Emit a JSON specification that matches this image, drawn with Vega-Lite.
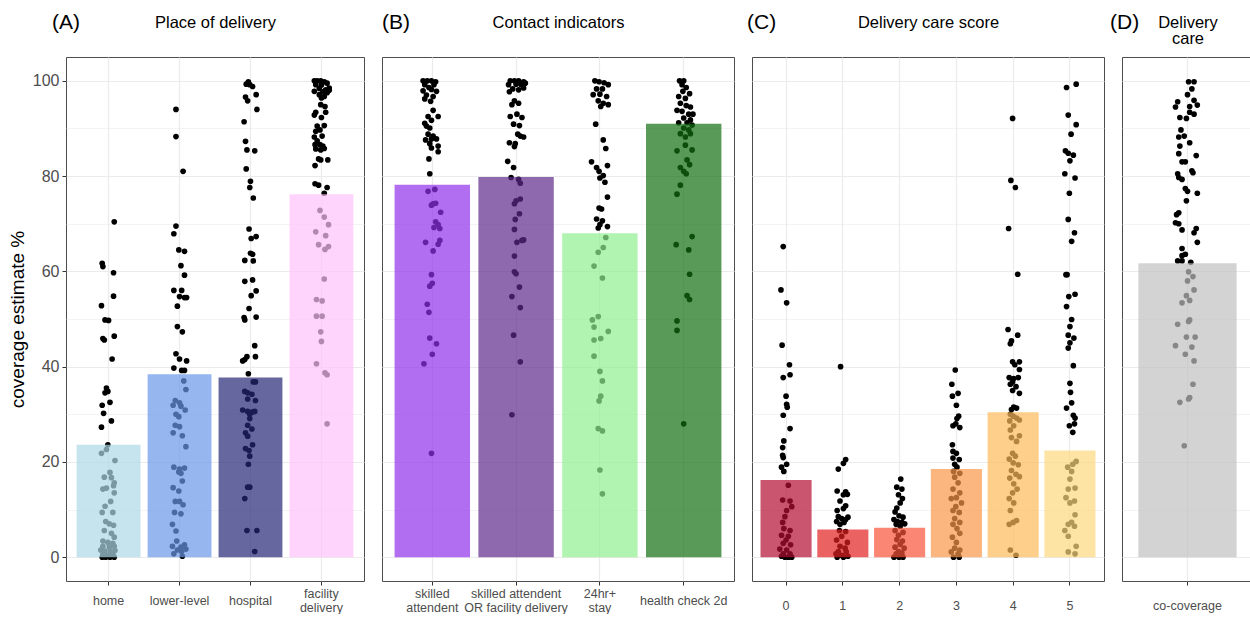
{
"$schema": "https://vega.github.io/schema/vega-lite/v6.json",
"background": "white",
"padding": {"left": 7, "top": 11, "right": 0, "bottom": 0},
"config": {
  "font": "Liberation Sans",
  "view": {"stroke": "#4d4d4d", "strokeWidth": 1},
  "axis": {"labelFont": "Liberation Sans", "titleFont": "Liberation Sans", "titleFontWeight": "normal", "labelColor": "#4d4d4d", "tickColor": "#333333", "gridColor": "#ebebeb", "domain": false},
  "title": {"font": "Liberation Sans", "fontWeight": "normal", "color": "black"}
},
"datasets": {
"bars": [
{"p":"A","c":"home","v":23.6},{"p":"A","c":"lower-level","v":38.4},{"p":"A","c":"hospital","v":37.7},{"p":"A","c":"facility delivery","v":76.2},
{"p":"B","c":"skilled attendent","v":78.2},{"p":"B","c":"skilled attendent OR facility delivery","v":79.8},{"p":"B","c":"24hr+ stay","v":68.0},{"p":"B","c":"health check 2d","v":91.0},
{"p":"C","c":"0","v":16.2},{"p":"C","c":"1","v":5.8},{"p":"C","c":"2","v":6.2},{"p":"C","c":"3","v":18.5},{"p":"C","c":"4","v":30.4},{"p":"C","c":"5","v":22.4},
{"p":"D","c":"co-coverage","v":61.7}
],
"pts": [
{"p":"A","c":"home","v":70.4,"j":0.08},{"p":"A","c":"home","v":61.7,"j":-0.09},{"p":"A","c":"home","v":61.0,"j":-0.08},{"p":"A","c":"home","v":59.7,"j":0.07},{"p":"A","c":"home","v":54.8,"j":0.07},{"p":"A","c":"home","v":52.8,"j":-0.10},{"p":"A","c":"home","v":49.8,"j":-0.05},{"p":"A","c":"home","v":49.7,"j":0},{"p":"A","c":"home","v":46.4,"j":0.08},{"p":"A","c":"home","v":45.9,"j":-0.08},{"p":"A","c":"home","v":45.6,"j":-0.06},{"p":"A","c":"home","v":41.6,"j":0.05},{"p":"A","c":"home","v":35.5,"j":-0.03},{"p":"A","c":"home","v":34.8,"j":-0.01},{"p":"A","c":"home","v":34.5,"j":-0.05},{"p":"A","c":"home","v":32.5,"j":0.02},{"p":"A","c":"home","v":31.9,"j":-0.09},{"p":"A","c":"home","v":30.2,"j":-0.07},{"p":"A","c":"home","v":28.6,"j":0.04},{"p":"A","c":"home","v":27.3,"j":-0.10},{"p":"A","c":"home","v":23.6,"j":-0.01},{"p":"A","c":"home","v":22.6,"j":-0.03},{"p":"A","c":"home","v":21.8,"j":-0.10},{"p":"A","c":"home","v":20.3,"j":0.09},{"p":"A","c":"home","v":17.8,"j":0.02},{"p":"A","c":"home","v":16.8,"j":-0.06},{"p":"A","c":"home","v":16.7,"j":0.04},{"p":"A","c":"home","v":15.6,"j":0.08},{"p":"A","c":"home","v":15.0,"j":0.07},{"p":"A","c":"home","v":14.3,"j":-0.08},{"p":"A","c":"home","v":14.5,"j":-0.03},{"p":"A","c":"home","v":13.5,"j":0.08},{"p":"A","c":"home","v":11.7,"j":0.03},{"p":"A","c":"home","v":10.7,"j":-0.05},{"p":"A","c":"home","v":9.4,"j":-0.09},{"p":"A","c":"home","v":9.4,"j":0.06},{"p":"A","c":"home","v":7.5,"j":-0.04},{"p":"A","c":"home","v":7.0,"j":0.01},{"p":"A","c":"home","v":6.7,"j":0.07},{"p":"A","c":"home","v":5.6,"j":-0.06},{"p":"A","c":"home","v":5.0,"j":0.04},{"p":"A","c":"home","v":4.2,"j":0.08},{"p":"A","c":"home","v":3.4,"j":-0.08},{"p":"A","c":"home","v":3.1,"j":-0.01},{"p":"A","c":"home","v":2.9,"j":0.06},{"p":"A","c":"home","v":2.3,"j":-0.08},{"p":"A","c":"home","v":2.1,"j":0.01},{"p":"A","c":"home","v":2.3,"j":0.08},{"p":"A","c":"home","v":1.5,"j":-0.11},{"p":"A","c":"home","v":1.3,"j":-0.05},{"p":"A","c":"home","v":1.2,"j":0.03},{"p":"A","c":"home","v":1.4,"j":0.09},{"p":"A","c":"home","v":0.7,"j":-0.08},{"p":"A","c":"home","v":0.4,"j":-0.01},{"p":"A","c":"home","v":0.6,"j":0.06},{"p":"A","c":"home","v":0,"j":-0.09},{"p":"A","c":"home","v":0,"j":-0.04},{"p":"A","c":"home","v":0,"j":0.02},{"p":"A","c":"home","v":0,"j":0.08},
{"p":"A","c":"lower-level","v":94.0,"j":-0.05},{"p":"A","c":"lower-level","v":88.3,"j":-0.05},{"p":"A","c":"lower-level","v":81.0,"j":0.05},{"p":"A","c":"lower-level","v":69.5,"j":-0.05},{"p":"A","c":"lower-level","v":67.9,"j":-0.08},{"p":"A","c":"lower-level","v":64.5,"j":-0.01},{"p":"A","c":"lower-level","v":64.2,"j":0.07},{"p":"A","c":"lower-level","v":61.2,"j":0.02},{"p":"A","c":"lower-level","v":59.2,"j":0.07},{"p":"A","c":"lower-level","v":56.0,"j":-0.08},{"p":"A","c":"lower-level","v":56.0,"j":0.03},{"p":"A","c":"lower-level","v":54.7,"j":0},{"p":"A","c":"lower-level","v":54.5,"j":0.07},{"p":"A","c":"lower-level","v":54.5,"j":0.10},{"p":"A","c":"lower-level","v":52.7,"j":-0.03},{"p":"A","c":"lower-level","v":48.4,"j":-0.03},{"p":"A","c":"lower-level","v":47.3,"j":0.04},{"p":"A","c":"lower-level","v":42.7,"j":-0.05},{"p":"A","c":"lower-level","v":41.6,"j":0},{"p":"A","c":"lower-level","v":41.2,"j":0.10},{"p":"A","c":"lower-level","v":39.7,"j":-0.08},{"p":"A","c":"lower-level","v":39.2,"j":0.03},{"p":"A","c":"lower-level","v":39.2,"j":0.07},{"p":"A","c":"lower-level","v":37.0,"j":0.06},{"p":"A","c":"lower-level","v":35.2,"j":0.09},{"p":"A","c":"lower-level","v":32.9,"j":-0.06},{"p":"A","c":"lower-level","v":32.4,"j":0},{"p":"A","c":"lower-level","v":31.9,"j":-0.09},{"p":"A","c":"lower-level","v":31.7,"j":0.02},{"p":"A","c":"lower-level","v":30.9,"j":0.08},{"p":"A","c":"lower-level","v":30.0,"j":-0.05},{"p":"A","c":"lower-level","v":29.5,"j":-0.01},{"p":"A","c":"lower-level","v":27.7,"j":-0.06},{"p":"A","c":"lower-level","v":27.4,"j":0},{"p":"A","c":"lower-level","v":26.1,"j":-0.09},{"p":"A","c":"lower-level","v":25.5,"j":0.04},{"p":"A","c":"lower-level","v":23.2,"j":0.09},{"p":"A","c":"lower-level","v":18.9,"j":-0.08},{"p":"A","c":"lower-level","v":18.5,"j":0},{"p":"A","c":"lower-level","v":18.7,"j":0.07},{"p":"A","c":"lower-level","v":17.9,"j":-0.01},{"p":"A","c":"lower-level","v":17.6,"j":0.02},{"p":"A","c":"lower-level","v":16.0,"j":0.04},{"p":"A","c":"lower-level","v":14.6,"j":-0.09},{"p":"A","c":"lower-level","v":13.9,"j":-0.01},{"p":"A","c":"lower-level","v":11.7,"j":-0.06},{"p":"A","c":"lower-level","v":11.7,"j":0},{"p":"A","c":"lower-level","v":11.0,"j":0.05},{"p":"A","c":"lower-level","v":9.4,"j":-0.07},{"p":"A","c":"lower-level","v":9.1,"j":0.02},{"p":"A","c":"lower-level","v":6.9,"j":-0.10},{"p":"A","c":"lower-level","v":5.5,"j":-0.05},{"p":"A","c":"lower-level","v":3.4,"j":-0.04},{"p":"A","c":"lower-level","v":2.3,"j":-0.10},{"p":"A","c":"lower-level","v":2.1,"j":0.02},{"p":"A","c":"lower-level","v":2.6,"j":0.07},{"p":"A","c":"lower-level","v":1.5,"j":-0.03},{"p":"A","c":"lower-level","v":1.2,"j":0.03},{"p":"A","c":"lower-level","v":1.7,"j":0.09},{"p":"A","c":"lower-level","v":0.7,"j":-0.08},{"p":"A","c":"lower-level","v":0.2,"j":0.04},
{"p":"A","c":"hospital","v":99.8,"j":-0.03},{"p":"A","c":"hospital","v":99.3,"j":-0.06},{"p":"A","c":"hospital","v":99.2,"j":-0.01},{"p":"A","c":"hospital","v":98.8,"j":0.03},{"p":"A","c":"hospital","v":97.1,"j":0.08},{"p":"A","c":"hospital","v":96.6,"j":-0.07},{"p":"A","c":"hospital","v":95.8,"j":-0.04},{"p":"A","c":"hospital","v":94.0,"j":0.09},{"p":"A","c":"hospital","v":91.4,"j":-0.09},{"p":"A","c":"hospital","v":87.3,"j":-0.07},{"p":"A","c":"hospital","v":85.5,"j":-0.05},{"p":"A","c":"hospital","v":85.3,"j":0.06},{"p":"A","c":"hospital","v":81.5,"j":-0.06},{"p":"A","c":"hospital","v":78.9,"j":0},{"p":"A","c":"hospital","v":77.6,"j":-0.01},{"p":"A","c":"hospital","v":75.4,"j":0.04},{"p":"A","c":"hospital","v":68.9,"j":-0.02},{"p":"A","c":"hospital","v":67.3,"j":0.08},{"p":"A","c":"hospital","v":66.9,"j":0.01},{"p":"A","c":"hospital","v":63.8,"j":0},{"p":"A","c":"hospital","v":63.6,"j":0.03},{"p":"A","c":"hospital","v":62.3,"j":-0.08},{"p":"A","c":"hospital","v":62.2,"j":0.04},{"p":"A","c":"hospital","v":58.2,"j":0.03},{"p":"A","c":"hospital","v":57.9,"j":-0.08},{"p":"A","c":"hospital","v":55.9,"j":0.08},{"p":"A","c":"hospital","v":54.9,"j":0.01},{"p":"A","c":"hospital","v":52.2,"j":-0.02},{"p":"A","c":"hospital","v":50.4,"j":0.08},{"p":"A","c":"hospital","v":50.3,"j":-0.09},{"p":"A","c":"hospital","v":49.8,"j":-0.08},{"p":"A","c":"hospital","v":44.4,"j":0.06},{"p":"A","c":"hospital","v":42.1,"j":-0.05},{"p":"A","c":"hospital","v":41.5,"j":-0.08},{"p":"A","c":"hospital","v":42.1,"j":0.07},{"p":"A","c":"hospital","v":41.2,"j":-0.11},{"p":"A","c":"hospital","v":38.5,"j":-0.03},{"p":"A","c":"hospital","v":36.8,"j":0.04},{"p":"A","c":"hospital","v":36.8,"j":0.07},{"p":"A","c":"hospital","v":34.8,"j":-0.08},{"p":"A","c":"hospital","v":34.5,"j":-0.04},{"p":"A","c":"hospital","v":34.2,"j":0.02},{"p":"A","c":"hospital","v":32.9,"j":0.07},{"p":"A","c":"hospital","v":33.2,"j":-0.04},{"p":"A","c":"hospital","v":30.9,"j":-0.11},{"p":"A","c":"hospital","v":30.6,"j":-0.04},{"p":"A","c":"hospital","v":30.5,"j":0.03},{"p":"A","c":"hospital","v":30.0,"j":-0.01},{"p":"A","c":"hospital","v":30.6,"j":0.06},{"p":"A","c":"hospital","v":29.1,"j":-0.01},{"p":"A","c":"hospital","v":27.7,"j":-0.04},{"p":"A","c":"hospital","v":26.9,"j":0.02},{"p":"A","c":"hospital","v":26.1,"j":-0.07},{"p":"A","c":"hospital","v":25.4,"j":-0.04},{"p":"A","c":"hospital","v":23.6,"j":0.03},{"p":"A","c":"hospital","v":22.8,"j":-0.07},{"p":"A","c":"hospital","v":22.4,"j":-0.02},{"p":"A","c":"hospital","v":21.2,"j":-0.01},{"p":"A","c":"hospital","v":19.5,"j":-0.03},{"p":"A","c":"hospital","v":14.7,"j":-0.04},{"p":"A","c":"hospital","v":14.7,"j":-0.01},{"p":"A","c":"hospital","v":12.3,"j":-0.08},{"p":"A","c":"hospital","v":5.6,"j":-0.05},{"p":"A","c":"hospital","v":5.6,"j":0.09},{"p":"A","c":"hospital","v":1.2,"j":0.06},
{"p":"A","c":"facility delivery","v":100,"j":-0.10},{"p":"A","c":"facility delivery","v":100,"j":-0.06},{"p":"A","c":"facility delivery","v":100,"j":-0.01},{"p":"A","c":"facility delivery","v":99.8,"j":0.04},{"p":"A","c":"facility delivery","v":99.5,"j":0.08},{"p":"A","c":"facility delivery","v":99.2,"j":-0.08},{"p":"A","c":"facility delivery","v":99.1,"j":0},{"p":"A","c":"facility delivery","v":98.5,"j":0.11},{"p":"A","c":"facility delivery","v":98.4,"j":-0.03},{"p":"A","c":"facility delivery","v":98.1,"j":0.06},{"p":"A","c":"facility delivery","v":97.8,"j":-0.10},{"p":"A","c":"facility delivery","v":97.7,"j":0.02},{"p":"A","c":"facility delivery","v":97.5,"j":0.08},{"p":"A","c":"facility delivery","v":98.0,"j":0.11},{"p":"A","c":"facility delivery","v":97.1,"j":-0.03},{"p":"A","c":"facility delivery","v":96.7,"j":0.04},{"p":"A","c":"facility delivery","v":96.4,"j":0},{"p":"A","c":"facility delivery","v":95.0,"j":-0.01},{"p":"A","c":"facility delivery","v":94.6,"j":0.05},{"p":"A","c":"facility delivery","v":93.4,"j":-0.08},{"p":"A","c":"facility delivery","v":93.4,"j":0.06},{"p":"A","c":"facility delivery","v":92.8,"j":-0.10},{"p":"A","c":"facility delivery","v":92.3,"j":0},{"p":"A","c":"facility delivery","v":90.5,"j":-0.06},{"p":"A","c":"facility delivery","v":90.6,"j":0.04},{"p":"A","c":"facility delivery","v":89.4,"j":-0.08},{"p":"A","c":"facility delivery","v":89.7,"j":-0.02},{"p":"A","c":"facility delivery","v":88.2,"j":-0.10},{"p":"A","c":"facility delivery","v":88.4,"j":0.01},{"p":"A","c":"facility delivery","v":87.4,"j":-0.06},{"p":"A","c":"facility delivery","v":86.6,"j":-0.09},{"p":"A","c":"facility delivery","v":86.6,"j":-0.02},{"p":"A","c":"facility delivery","v":86.3,"j":0.02},{"p":"A","c":"facility delivery","v":85.7,"j":-0.08},{"p":"A","c":"facility delivery","v":85.5,"j":-0.01},{"p":"A","c":"facility delivery","v":85.8,"j":0.04},{"p":"A","c":"facility delivery","v":83.6,"j":-0.04},{"p":"A","c":"facility delivery","v":83.4,"j":-0.01},{"p":"A","c":"facility delivery","v":83.4,"j":0.09},{"p":"A","c":"facility delivery","v":82.2,"j":-0.09},{"p":"A","c":"facility delivery","v":78.4,"j":-0.09},{"p":"A","c":"facility delivery","v":78.1,"j":-0.04},{"p":"A","c":"facility delivery","v":77.6,"j":0.08},{"p":"A","c":"facility delivery","v":76.4,"j":0.04},{"p":"A","c":"facility delivery","v":72.8,"j":-0.02},{"p":"A","c":"facility delivery","v":71.4,"j":0.04},{"p":"A","c":"facility delivery","v":69.8,"j":0.10},{"p":"A","c":"facility delivery","v":68.3,"j":-0.08},{"p":"A","c":"facility delivery","v":67.5,"j":0.06},{"p":"A","c":"facility delivery","v":65.6,"j":-0.04},{"p":"A","c":"facility delivery","v":65.2,"j":0.10},{"p":"A","c":"facility delivery","v":64.6,"j":0.05},{"p":"A","c":"facility delivery","v":58.4,"j":0.04},{"p":"A","c":"facility delivery","v":54.1,"j":-0.07},{"p":"A","c":"facility delivery","v":53.8,"j":0.01},{"p":"A","c":"facility delivery","v":50.6,"j":-0.07},{"p":"A","c":"facility delivery","v":50.6,"j":0.01},{"p":"A","c":"facility delivery","v":47.3,"j":-0.01},{"p":"A","c":"facility delivery","v":45.3,"j":0},{"p":"A","c":"facility delivery","v":40.6,"j":-0.07},{"p":"A","c":"facility delivery","v":38.7,"j":0.05},{"p":"A","c":"facility delivery","v":38.3,"j":0.08},{"p":"A","c":"facility delivery","v":28.0,"j":0.08},
{"p":"B","c":"skilled attendent","v":100,"j":-0.11},{"p":"B","c":"skilled attendent","v":100,"j":-0.06},{"p":"B","c":"skilled attendent","v":100,"j":-0.01},{"p":"B","c":"skilled attendent","v":99.8,"j":0.04},{"p":"B","c":"skilled attendent","v":99.2,"j":-0.09},{"p":"B","c":"skilled attendent","v":99.2,"j":0.02},{"p":"B","c":"skilled attendent","v":98.6,"j":-0.04},{"p":"B","c":"skilled attendent","v":97.9,"j":-0.11},{"p":"B","c":"skilled attendent","v":98.2,"j":-0.01},{"p":"B","c":"skilled attendent","v":97.8,"j":0.05},{"p":"B","c":"skilled attendent","v":97.0,"j":-0.07},{"p":"B","c":"skilled attendent","v":96.7,"j":0.01},{"p":"B","c":"skilled attendent","v":96.2,"j":-0.09},{"p":"B","c":"skilled attendent","v":95.7,"j":-0.02},{"p":"B","c":"skilled attendent","v":93.8,"j":0.01},{"p":"B","c":"skilled attendent","v":92.5,"j":-0.05},{"p":"B","c":"skilled attendent","v":92.5,"j":0.07},{"p":"B","c":"skilled attendent","v":91.7,"j":-0.01},{"p":"B","c":"skilled attendent","v":91.1,"j":-0.09},{"p":"B","c":"skilled attendent","v":90.5,"j":-0.07},{"p":"B","c":"skilled attendent","v":90.1,"j":-0.03},{"p":"B","c":"skilled attendent","v":88.8,"j":-0.05},{"p":"B","c":"skilled attendent","v":88.4,"j":0.01},{"p":"B","c":"skilled attendent","v":87.6,"j":-0.08},{"p":"B","c":"skilled attendent","v":87.8,"j":-0.01},{"p":"B","c":"skilled attendent","v":87.8,"j":0.05},{"p":"B","c":"skilled attendent","v":86.8,"j":-0.03},{"p":"B","c":"skilled attendent","v":86.3,"j":0.07},{"p":"B","c":"skilled attendent","v":85.9,"j":-0.01},{"p":"B","c":"skilled attendent","v":85.1,"j":0.07},{"p":"B","c":"skilled attendent","v":83.6,"j":-0.04},{"p":"B","c":"skilled attendent","v":80.5,"j":-0.03},{"p":"B","c":"skilled attendent","v":76.8,"j":-0.05},{"p":"B","c":"skilled attendent","v":77.2,"j":0.03},{"p":"B","c":"skilled attendent","v":74.2,"j":0.01},{"p":"B","c":"skilled attendent","v":74.3,"j":0.04},{"p":"B","c":"skilled attendent","v":73.9,"j":-0.01},{"p":"B","c":"skilled attendent","v":72.4,"j":0.10},{"p":"B","c":"skilled attendent","v":70.4,"j":0.04},{"p":"B","c":"skilled attendent","v":69.8,"j":0.07},{"p":"B","c":"skilled attendent","v":69.2,"j":0.02},{"p":"B","c":"skilled attendent","v":69.0,"j":0.09},{"p":"B","c":"skilled attendent","v":66.1,"j":-0.08},{"p":"B","c":"skilled attendent","v":66.5,"j":0.09},{"p":"B","c":"skilled attendent","v":65.7,"j":0.07},{"p":"B","c":"skilled attendent","v":64.3,"j":0.01},{"p":"B","c":"skilled attendent","v":59.3,"j":-0.01},{"p":"B","c":"skilled attendent","v":56.9,"j":-0.03},{"p":"B","c":"skilled attendent","v":57.5,"j":0},{"p":"B","c":"skilled attendent","v":53.1,"j":-0.06},{"p":"B","c":"skilled attendent","v":51.4,"j":-0.04},{"p":"B","c":"skilled attendent","v":46.0,"j":-0.03},{"p":"B","c":"skilled attendent","v":44.8,"j":0.05},{"p":"B","c":"skilled attendent","v":42.6,"j":0},{"p":"B","c":"skilled attendent","v":40.6,"j":-0.10},{"p":"B","c":"skilled attendent","v":21.8,"j":-0.01},
{"p":"B","c":"skilled attendent OR facility delivery","v":100,"j":-0.07},{"p":"B","c":"skilled attendent OR facility delivery","v":100,"j":-0.02},{"p":"B","c":"skilled attendent OR facility delivery","v":100,"j":0.03},{"p":"B","c":"skilled attendent OR facility delivery","v":99.8,"j":0.09},{"p":"B","c":"skilled attendent OR facility delivery","v":99.2,"j":-0.09},{"p":"B","c":"skilled attendent OR facility delivery","v":99.3,"j":0},{"p":"B","c":"skilled attendent OR facility delivery","v":99.2,"j":0.06},{"p":"B","c":"skilled attendent OR facility delivery","v":99.5,"j":0.11},{"p":"B","c":"skilled attendent OR facility delivery","v":98.3,"j":-0.04},{"p":"B","c":"skilled attendent OR facility delivery","v":98.1,"j":0.03},{"p":"B","c":"skilled attendent OR facility delivery","v":98.5,"j":0.09},{"p":"B","c":"skilled attendent OR facility delivery","v":97.7,"j":-0.08},{"p":"B","c":"skilled attendent OR facility delivery","v":95.8,"j":-0.02},{"p":"B","c":"skilled attendent OR facility delivery","v":95.3,"j":0.03},{"p":"B","c":"skilled attendent OR facility delivery","v":95.0,"j":-0.05},{"p":"B","c":"skilled attendent OR facility delivery","v":93.0,"j":0.01},{"p":"B","c":"skilled attendent OR facility delivery","v":92.5,"j":-0.07},{"p":"B","c":"skilled attendent OR facility delivery","v":92.3,"j":0.07},{"p":"B","c":"skilled attendent OR facility delivery","v":90.9,"j":-0.03},{"p":"B","c":"skilled attendent OR facility delivery","v":90.6,"j":0.04},{"p":"B","c":"skilled attendent OR facility delivery","v":88.8,"j":0.02},{"p":"B","c":"skilled attendent OR facility delivery","v":88.4,"j":0.05},{"p":"B","c":"skilled attendent OR facility delivery","v":88.2,"j":0.09},{"p":"B","c":"skilled attendent OR facility delivery","v":87.0,"j":-0.08},{"p":"B","c":"skilled attendent OR facility delivery","v":86.8,"j":-0.01},{"p":"B","c":"skilled attendent OR facility delivery","v":86.2,"j":-0.02},{"p":"B","c":"skilled attendent OR facility delivery","v":83.1,"j":-0.10},{"p":"B","c":"skilled attendent OR facility delivery","v":81.8,"j":-0.03},{"p":"B","c":"skilled attendent OR facility delivery","v":79.7,"j":-0.06},{"p":"B","c":"skilled attendent OR facility delivery","v":79.3,"j":0.03},{"p":"B","c":"skilled attendent OR facility delivery","v":78.5,"j":0.05},{"p":"B","c":"skilled attendent OR facility delivery","v":74.8,"j":0},{"p":"B","c":"skilled attendent OR facility delivery","v":75.2,"j":0.05},{"p":"B","c":"skilled attendent OR facility delivery","v":74.2,"j":-0.02},{"p":"B","c":"skilled attendent OR facility delivery","v":72.1,"j":0.04},{"p":"B","c":"skilled attendent OR facility delivery","v":70.9,"j":-0.01},{"p":"B","c":"skilled attendent OR facility delivery","v":68.8,"j":-0.02},{"p":"B","c":"skilled attendent OR facility delivery","v":66.1,"j":0.01},{"p":"B","c":"skilled attendent OR facility delivery","v":66.6,"j":0.09},{"p":"B","c":"skilled attendent OR facility delivery","v":66.5,"j":0.07},{"p":"B","c":"skilled attendent OR facility delivery","v":63.2,"j":-0.02},{"p":"B","c":"skilled attendent OR facility delivery","v":59.9,"j":-0.02},{"p":"B","c":"skilled attendent OR facility delivery","v":59.5,"j":0},{"p":"B","c":"skilled attendent OR facility delivery","v":56.7,"j":0.04},{"p":"B","c":"skilled attendent OR facility delivery","v":54.7,"j":-0.05},{"p":"B","c":"skilled attendent OR facility delivery","v":52.4,"j":0.05},{"p":"B","c":"skilled attendent OR facility delivery","v":46.6,"j":-0.03},{"p":"B","c":"skilled attendent OR facility delivery","v":41.0,"j":0.05},{"p":"B","c":"skilled attendent OR facility delivery","v":29.9,"j":-0.05},
{"p":"B","c":"24hr+ stay","v":100,"j":-0.06},{"p":"B","c":"24hr+ stay","v":99.8,"j":-0.01},{"p":"B","c":"24hr+ stay","v":99.6,"j":0.05},{"p":"B","c":"24hr+ stay","v":99.2,"j":0.10},{"p":"B","c":"24hr+ stay","v":98.3,"j":-0.04},{"p":"B","c":"24hr+ stay","v":98.3,"j":0.03},{"p":"B","c":"24hr+ stay","v":97.1,"j":-0.08},{"p":"B","c":"24hr+ stay","v":97.2,"j":0},{"p":"B","c":"24hr+ stay","v":96.7,"j":0.08},{"p":"B","c":"24hr+ stay","v":95.8,"j":-0.02},{"p":"B","c":"24hr+ stay","v":95.3,"j":0.04},{"p":"B","c":"24hr+ stay","v":95.0,"j":0.10},{"p":"B","c":"24hr+ stay","v":94.6,"j":0.01},{"p":"B","c":"24hr+ stay","v":90.9,"j":-0.05},{"p":"B","c":"24hr+ stay","v":87.6,"j":0.04},{"p":"B","c":"24hr+ stay","v":85.8,"j":0.07},{"p":"B","c":"24hr+ stay","v":83.0,"j":-0.10},{"p":"B","c":"24hr+ stay","v":81.8,"j":-0.04},{"p":"B","c":"24hr+ stay","v":81.0,"j":-0.01},{"p":"B","c":"24hr+ stay","v":82.2,"j":0.09},{"p":"B","c":"24hr+ stay","v":79.6,"j":0},{"p":"B","c":"24hr+ stay","v":78.7,"j":0.06},{"p":"B","c":"24hr+ stay","v":80.1,"j":0.04},{"p":"B","c":"24hr+ stay","v":75.6,"j":0.09},{"p":"B","c":"24hr+ stay","v":73.3,"j":-0.01},{"p":"B","c":"24hr+ stay","v":73.1,"j":0.02},{"p":"B","c":"24hr+ stay","v":71.0,"j":-0.04},{"p":"B","c":"24hr+ stay","v":70.6,"j":0.03},{"p":"B","c":"24hr+ stay","v":69.8,"j":0},{"p":"B","c":"24hr+ stay","v":69.1,"j":-0.02},{"p":"B","c":"24hr+ stay","v":69.4,"j":0.09},{"p":"B","c":"24hr+ stay","v":67.1,"j":0.07},{"p":"B","c":"24hr+ stay","v":65.0,"j":0.04},{"p":"B","c":"24hr+ stay","v":64.0,"j":-0.02},{"p":"B","c":"24hr+ stay","v":61.1,"j":-0.07},{"p":"B","c":"24hr+ stay","v":58.6,"j":0.03},{"p":"B","c":"24hr+ stay","v":50.5,"j":-0.02},{"p":"B","c":"24hr+ stay","v":49.8,"j":-0.09},{"p":"B","c":"24hr+ stay","v":48.3,"j":-0.07},{"p":"B","c":"24hr+ stay","v":47.4,"j":0.10},{"p":"B","c":"24hr+ stay","v":45.6,"j":-0.07},{"p":"B","c":"24hr+ stay","v":45.9,"j":0.01},{"p":"B","c":"24hr+ stay","v":42.2,"j":-0.07},{"p":"B","c":"24hr+ stay","v":39.0,"j":0},{"p":"B","c":"24hr+ stay","v":37.0,"j":0.03},{"p":"B","c":"24hr+ stay","v":33.8,"j":0.01},{"p":"B","c":"24hr+ stay","v":32.8,"j":-0.01},{"p":"B","c":"24hr+ stay","v":27.0,"j":-0.02},{"p":"B","c":"24hr+ stay","v":26.5,"j":0.03},{"p":"B","c":"24hr+ stay","v":18.3,"j":0},{"p":"B","c":"24hr+ stay","v":13.3,"j":0.03},
{"p":"B","c":"health check 2d","v":100,"j":-0.05},{"p":"B","c":"health check 2d","v":100,"j":0},{"p":"B","c":"health check 2d","v":99.2,"j":-0.02},{"p":"B","c":"health check 2d","v":98.6,"j":0.03},{"p":"B","c":"health check 2d","v":97.8,"j":-0.01},{"p":"B","c":"health check 2d","v":97.3,"j":0.07},{"p":"B","c":"health check 2d","v":96.7,"j":-0.06},{"p":"B","c":"health check 2d","v":96.3,"j":0.02},{"p":"B","c":"health check 2d","v":95.3,"j":-0.04},{"p":"B","c":"health check 2d","v":94.8,"j":0.03},{"p":"B","c":"health check 2d","v":94.5,"j":0.08},{"p":"B","c":"health check 2d","v":93.8,"j":-0.08},{"p":"B","c":"health check 2d","v":93.6,"j":-0.02},{"p":"B","c":"health check 2d","v":93.0,"j":0.06},{"p":"B","c":"health check 2d","v":93.0,"j":0.11},{"p":"B","c":"health check 2d","v":92.2,"j":0},{"p":"B","c":"health check 2d","v":91.8,"j":0.08},{"p":"B","c":"health check 2d","v":91.2,"j":-0.06},{"p":"B","c":"health check 2d","v":91.2,"j":0.04},{"p":"B","c":"health check 2d","v":90.7,"j":0.10},{"p":"B","c":"health check 2d","v":90.1,"j":0},{"p":"B","c":"health check 2d","v":89.7,"j":0.06},{"p":"B","c":"health check 2d","v":88.9,"j":-0.04},{"p":"B","c":"health check 2d","v":88.2,"j":0.02},{"p":"B","c":"health check 2d","v":88.9,"j":0.08},{"p":"B","c":"health check 2d","v":85.3,"j":-0.08},{"p":"B","c":"health check 2d","v":86.5,"j":0.02},{"p":"B","c":"health check 2d","v":85.5,"j":0.10},{"p":"B","c":"health check 2d","v":83.4,"j":0.04},{"p":"B","c":"health check 2d","v":82.4,"j":0.07},{"p":"B","c":"health check 2d","v":81.8,"j":-0.04},{"p":"B","c":"health check 2d","v":81.0,"j":0},{"p":"B","c":"health check 2d","v":80.5,"j":0.03},{"p":"B","c":"health check 2d","v":78.1,"j":-0.04},{"p":"B","c":"health check 2d","v":76.2,"j":-0.08},{"p":"B","c":"health check 2d","v":67.3,"j":0.10},{"p":"B","c":"health check 2d","v":65.6,"j":-0.09},{"p":"B","c":"health check 2d","v":64.5,"j":0.06},{"p":"B","c":"health check 2d","v":59.4,"j":0.07},{"p":"B","c":"health check 2d","v":54.9,"j":0.04},{"p":"B","c":"health check 2d","v":54.1,"j":0.07},{"p":"B","c":"health check 2d","v":49.6,"j":-0.08},{"p":"B","c":"health check 2d","v":47.6,"j":-0.08},{"p":"B","c":"health check 2d","v":28.0,"j":0},
{"p":"C","c":"0","v":65.2,"j":-0.05},{"p":"C","c":"0","v":56.1,"j":-0.09},{"p":"C","c":"0","v":53.4,"j":0.01},{"p":"C","c":"0","v":44.5,"j":-0.07},{"p":"C","c":"0","v":40.4,"j":0.06},{"p":"C","c":"0","v":38.3,"j":0.07},{"p":"C","c":"0","v":37.7,"j":-0.05},{"p":"C","c":"0","v":33.8,"j":0},{"p":"C","c":"0","v":32.1,"j":0.01},{"p":"C","c":"0","v":31.5,"j":0.02},{"p":"C","c":"0","v":29.8,"j":-0.05},{"p":"C","c":"0","v":27.0,"j":0.07},{"p":"C","c":"0","v":24.4,"j":-0.04},{"p":"C","c":"0","v":23.0,"j":-0.06},{"p":"C","c":"0","v":21.4,"j":-0.06},{"p":"C","c":"0","v":20.9,"j":-0.05},{"p":"C","c":"0","v":19.5,"j":0.01},{"p":"C","c":"0","v":18.9,"j":-0.08},{"p":"C","c":"0","v":18.0,"j":-0.04},{"p":"C","c":"0","v":15.1,"j":0.04},{"p":"C","c":"0","v":12.0,"j":-0.06},{"p":"C","c":"0","v":11.8,"j":0.07},{"p":"C","c":"0","v":10.6,"j":0.10},{"p":"C","c":"0","v":9.8,"j":0.01},{"p":"C","c":"0","v":8.5,"j":-0.02},{"p":"C","c":"0","v":7.3,"j":-0.06},{"p":"C","c":"0","v":6.0,"j":-0.04},{"p":"C","c":"0","v":5.6,"j":0.07},{"p":"C","c":"0","v":4.6,"j":-0.08},{"p":"C","c":"0","v":4.4,"j":0.04},{"p":"C","c":"0","v":3.6,"j":0},{"p":"C","c":"0","v":2.9,"j":-0.05},{"p":"C","c":"0","v":2.6,"j":0.08},{"p":"C","c":"0","v":1.7,"j":-0.11},{"p":"C","c":"0","v":1.5,"j":0.01},{"p":"C","c":"0","v":0.7,"j":-0.05},{"p":"C","c":"0","v":0.7,"j":0.07},{"p":"C","c":"0","v":0.2,"j":-0.08},{"p":"C","c":"0","v":0,"j":0.04},{"p":"C","c":"0","v":0,"j":-0.02},{"p":"C","c":"0","v":0,"j":0.10},
{"p":"C","c":"1","v":40.0,"j":-0.04},{"p":"C","c":"1","v":20.5,"j":0.05},{"p":"C","c":"1","v":19.7,"j":0.01},{"p":"C","c":"1","v":18.5,"j":-0.08},{"p":"C","c":"1","v":13.9,"j":-0.10},{"p":"C","c":"1","v":13.7,"j":0.05},{"p":"C","c":"1","v":13.2,"j":0.08},{"p":"C","c":"1","v":13.1,"j":0.01},{"p":"C","c":"1","v":11.8,"j":-0.05},{"p":"C","c":"1","v":10.8,"j":0.05},{"p":"C","c":"1","v":9.8,"j":-0.10},{"p":"C","c":"1","v":10.2,"j":0.01},{"p":"C","c":"1","v":8.5,"j":-0.08},{"p":"C","c":"1","v":8.1,"j":-0.02},{"p":"C","c":"1","v":7.9,"j":0.05},{"p":"C","c":"1","v":8.4,"j":0.09},{"p":"C","c":"1","v":7.5,"j":-0.11},{"p":"C","c":"1","v":7.3,"j":0.02},{"p":"C","c":"1","v":6.9,"j":-0.05},{"p":"C","c":"1","v":5.6,"j":-0.06},{"p":"C","c":"1","v":5.4,"j":0.05},{"p":"C","c":"1","v":4.4,"j":-0.02},{"p":"C","c":"1","v":3.6,"j":-0.11},{"p":"C","c":"1","v":3.1,"j":0.08},{"p":"C","c":"1","v":2.3,"j":-0.05},{"p":"C","c":"1","v":1.9,"j":0.04},{"p":"C","c":"1","v":1.2,"j":-0.08},{"p":"C","c":"1","v":1.1,"j":0.06},{"p":"C","c":"1","v":0.7,"j":-0.12},{"p":"C","c":"1","v":0.4,"j":-0.02},{"p":"C","c":"1","v":0.2,"j":0.09},{"p":"C","c":"1","v":0,"j":-0.10},{"p":"C","c":"1","v":0,"j":0.01},
{"p":"C","c":"2","v":16.4,"j":0.02},{"p":"C","c":"2","v":14.7,"j":-0.05},{"p":"C","c":"2","v":14.3,"j":0.04},{"p":"C","c":"2","v":13.1,"j":-0.02},{"p":"C","c":"2","v":12.3,"j":0.05},{"p":"C","c":"2","v":11.4,"j":0.01},{"p":"C","c":"2","v":10.3,"j":-0.05},{"p":"C","c":"2","v":9.5,"j":-0.08},{"p":"C","c":"2","v":8.7,"j":-0.01},{"p":"C","c":"2","v":8.4,"j":0.06},{"p":"C","c":"2","v":7.9,"j":-0.10},{"p":"C","c":"2","v":7.5,"j":-0.04},{"p":"C","c":"2","v":7.3,"j":0.04},{"p":"C","c":"2","v":7.0,"j":0.09},{"p":"C","c":"2","v":6.9,"j":-0.06},{"p":"C","c":"2","v":6.5,"j":0.01},{"p":"C","c":"2","v":5.6,"j":-0.08},{"p":"C","c":"2","v":5.2,"j":0.06},{"p":"C","c":"2","v":4.6,"j":-0.02},{"p":"C","c":"2","v":3.7,"j":-0.05},{"p":"C","c":"2","v":3.4,"j":0.05},{"p":"C","c":"2","v":2.7,"j":0.01},{"p":"C","c":"2","v":2.1,"j":-0.08},{"p":"C","c":"2","v":1.9,"j":0.08},{"p":"C","c":"2","v":1.2,"j":-0.02},{"p":"C","c":"2","v":0.9,"j":0.04},{"p":"C","c":"2","v":0.7,"j":-0.06},{"p":"C","c":"2","v":0.2,"j":-0.01},{"p":"C","c":"2","v":0,"j":-0.10},{"p":"C","c":"2","v":0,"j":0.06},{"p":"C","c":"2","v":0,"j":-0.01},
{"p":"C","c":"3","v":39.3,"j":-0.02},{"p":"C","c":"3","v":36.3,"j":-0.08},{"p":"C","c":"3","v":34.4,"j":0.03},{"p":"C","c":"3","v":33.8,"j":-0.07},{"p":"C","c":"3","v":31.9,"j":0},{"p":"C","c":"3","v":29.6,"j":0.04},{"p":"C","c":"3","v":29.1,"j":0.01},{"p":"C","c":"3","v":27.6,"j":-0.06},{"p":"C","c":"3","v":27.2,"j":0.06},{"p":"C","c":"3","v":28.0,"j":-0.01},{"p":"C","c":"3","v":23.6,"j":-0.07},{"p":"C","c":"3","v":22.2,"j":-0.06},{"p":"C","c":"3","v":21.8,"j":0},{"p":"C","c":"3","v":20.8,"j":-0.06},{"p":"C","c":"3","v":20.5,"j":0.05},{"p":"C","c":"3","v":19.5,"j":-0.03},{"p":"C","c":"3","v":18.9,"j":0.01},{"p":"C","c":"3","v":18.0,"j":-0.05},{"p":"C","c":"3","v":17.6,"j":0.06},{"p":"C","c":"3","v":16.8,"j":-0.03},{"p":"C","c":"3","v":15.6,"j":0.03},{"p":"C","c":"3","v":14.3,"j":-0.06},{"p":"C","c":"3","v":13.5,"j":0.06},{"p":"C","c":"3","v":12.5,"j":0},{"p":"C","c":"3","v":12.3,"j":-0.09},{"p":"C","c":"3","v":11.4,"j":0.09},{"p":"C","c":"3","v":10.6,"j":-0.01},{"p":"C","c":"3","v":9.8,"j":-0.06},{"p":"C","c":"3","v":9.4,"j":0.05},{"p":"C","c":"3","v":8.1,"j":-0.03},{"p":"C","c":"3","v":7.3,"j":0.06},{"p":"C","c":"3","v":6.9,"j":-0.06},{"p":"C","c":"3","v":6.0,"j":0.01},{"p":"C","c":"3","v":5.0,"j":0.06},{"p":"C","c":"3","v":4.2,"j":-0.07},{"p":"C","c":"3","v":3.1,"j":0},{"p":"C","c":"3","v":1.9,"j":-0.03},{"p":"C","c":"3","v":1.5,"j":0.06},{"p":"C","c":"3","v":1.1,"j":-0.09},{"p":"C","c":"3","v":0.7,"j":0.03},{"p":"C","c":"3","v":0,"j":-0.05},{"p":"C","c":"3","v":0,"j":0.05},
{"p":"C","c":"4","v":92.1,"j":-0.01},{"p":"C","c":"4","v":79.1,"j":-0.04},{"p":"C","c":"4","v":77.6,"j":0.04},{"p":"C","c":"4","v":69.0,"j":-0.08},{"p":"C","c":"4","v":59.4,"j":0.08},{"p":"C","c":"4","v":47.8,"j":-0.09},{"p":"C","c":"4","v":46.6,"j":0.08},{"p":"C","c":"4","v":45.4,"j":-0.03},{"p":"C","c":"4","v":44.8,"j":-0.05},{"p":"C","c":"4","v":41.0,"j":-0.01},{"p":"C","c":"4","v":41.0,"j":0.11},{"p":"C","c":"4","v":40.4,"j":0.03},{"p":"C","c":"4","v":39.4,"j":0.11},{"p":"C","c":"4","v":37.7,"j":-0.07},{"p":"C","c":"4","v":37.5,"j":0.01},{"p":"C","c":"4","v":37.7,"j":0.09},{"p":"C","c":"4","v":36.8,"j":-0.01},{"p":"C","c":"4","v":36.3,"j":-0.05},{"p":"C","c":"4","v":35.8,"j":0.05},{"p":"C","c":"4","v":34.4,"j":0.11},{"p":"C","c":"4","v":35.0,"j":-0.01},{"p":"C","c":"4","v":31.5,"j":0.01},{"p":"C","c":"4","v":31.0,"j":-0.03},{"p":"C","c":"4","v":31.3,"j":0.06},{"p":"C","c":"4","v":30.0,"j":-0.05},{"p":"C","c":"4","v":29.6,"j":0},{"p":"C","c":"4","v":29.2,"j":0.06},{"p":"C","c":"4","v":28.6,"j":-0.06},{"p":"C","c":"4","v":28.8,"j":0.11},{"p":"C","c":"4","v":27.6,"j":0.01},{"p":"C","c":"4","v":26.7,"j":-0.05},{"p":"C","c":"4","v":25.5,"j":0.11},{"p":"C","c":"4","v":25.1,"j":-0.03},{"p":"C","c":"4","v":24.3,"j":0.06},{"p":"C","c":"4","v":21.8,"j":-0.01},{"p":"C","c":"4","v":21.2,"j":0.04},{"p":"C","c":"4","v":20.6,"j":-0.07},{"p":"C","c":"4","v":19.8,"j":0},{"p":"C","c":"4","v":19.4,"j":0.09},{"p":"C","c":"4","v":18.2,"j":-0.03},{"p":"C","c":"4","v":17.4,"j":0.05},{"p":"C","c":"4","v":16.9,"j":0.11},{"p":"C","c":"4","v":16.6,"j":-0.06},{"p":"C","c":"4","v":15.4,"j":0.01},{"p":"C","c":"4","v":14.3,"j":0.07},{"p":"C","c":"4","v":13.5,"j":-0.01},{"p":"C","c":"4","v":12.3,"j":-0.07},{"p":"C","c":"4","v":11.4,"j":0.01},{"p":"C","c":"4","v":9.8,"j":-0.05},{"p":"C","c":"4","v":7.7,"j":0.06},{"p":"C","c":"4","v":7.3,"j":0},{"p":"C","c":"4","v":6.9,"j":-0.07},{"p":"C","c":"4","v":1.5,"j":-0.05},{"p":"C","c":"4","v":0.4,"j":0.05},
{"p":"C","c":"5","v":98.6,"j":-0.06},{"p":"C","c":"5","v":99.3,"j":0.11},{"p":"C","c":"5","v":92.8,"j":-0.03},{"p":"C","c":"5","v":90.8,"j":0.11},{"p":"C","c":"5","v":88.8,"j":0.02},{"p":"C","c":"5","v":85.3,"j":-0.08},{"p":"C","c":"5","v":84.8,"j":-0.03},{"p":"C","c":"5","v":84.4,"j":0.06},{"p":"C","c":"5","v":83.2,"j":0},{"p":"C","c":"5","v":80.5,"j":-0.09},{"p":"C","c":"5","v":79.6,"j":0.09},{"p":"C","c":"5","v":76.4,"j":-0.01},{"p":"C","c":"5","v":70.9,"j":-0.03},{"p":"C","c":"5","v":68.1,"j":0.08},{"p":"C","c":"5","v":66.3,"j":0.03},{"p":"C","c":"5","v":59.3,"j":-0.07},{"p":"C","c":"5","v":59.3,"j":-0.05},{"p":"C","c":"5","v":54.7,"j":-0.02},{"p":"C","c":"5","v":55.2,"j":0.09},{"p":"C","c":"5","v":52.6,"j":-0.06},{"p":"C","c":"5","v":49.9,"j":0.03},{"p":"C","c":"5","v":48.4,"j":0},{"p":"C","c":"5","v":46.6,"j":-0.03},{"p":"C","c":"5","v":46.0,"j":0.07},{"p":"C","c":"5","v":45.0,"j":0},{"p":"C","c":"5","v":43.9,"j":-0.03},{"p":"C","c":"5","v":40.2,"j":0.06},{"p":"C","c":"5","v":36.5,"j":0},{"p":"C","c":"5","v":34.6,"j":0.01},{"p":"C","c":"5","v":31.3,"j":-0.06},{"p":"C","c":"5","v":32.4,"j":0.03},{"p":"C","c":"5","v":29.8,"j":0.06},{"p":"C","c":"5","v":29.2,"j":0.09},{"p":"C","c":"5","v":27.6,"j":-0.01},{"p":"C","c":"5","v":28.0,"j":0.08},{"p":"C","c":"5","v":26.2,"j":0.05},{"p":"C","c":"5","v":20.1,"j":0.11},{"p":"C","c":"5","v":19.5,"j":0.05},{"p":"C","c":"5","v":18.9,"j":-0.04},{"p":"C","c":"5","v":18.0,"j":0.03},{"p":"C","c":"5","v":16.4,"j":0},{"p":"C","c":"5","v":14.3,"j":-0.03},{"p":"C","c":"5","v":14.5,"j":0.09},{"p":"C","c":"5","v":12.5,"j":-0.07},{"p":"C","c":"5","v":11.8,"j":0.08},{"p":"C","c":"5","v":11.4,"j":0},{"p":"C","c":"5","v":8.9,"j":0.09},{"p":"C","c":"5","v":7.3,"j":0.03},{"p":"C","c":"5","v":6.9,"j":-0.03},{"p":"C","c":"5","v":6.5,"j":0.08},{"p":"C","c":"5","v":5.6,"j":-0.09},{"p":"C","c":"5","v":4.4,"j":-0.03},{"p":"C","c":"5","v":2.3,"j":0.11},{"p":"C","c":"5","v":1.1,"j":-0.03},{"p":"C","c":"5","v":0.7,"j":0.09},
{"p":"D","c":"co-coverage","v":99.8,"j":0.01},{"p":"D","c":"co-coverage","v":99.8,"j":0.06},{"p":"D","c":"co-coverage","v":98.3,"j":0.04},{"p":"D","c":"co-coverage","v":97.1,"j":0},{"p":"D","c":"co-coverage","v":95.6,"j":-0.09},{"p":"D","c":"co-coverage","v":94.5,"j":-0.11},{"p":"D","c":"co-coverage","v":95.9,"j":0.06},{"p":"D","c":"co-coverage","v":94.9,"j":0.09},{"p":"D","c":"co-coverage","v":94.6,"j":0.02},{"p":"D","c":"co-coverage","v":93.4,"j":0.02},{"p":"D","c":"co-coverage","v":93.0,"j":0.06},{"p":"D","c":"co-coverage","v":92.3,"j":-0.07},{"p":"D","c":"co-coverage","v":92.1,"j":-0.01},{"p":"D","c":"co-coverage","v":89.7,"j":-0.06},{"p":"D","c":"co-coverage","v":88.2,"j":-0.08},{"p":"D","c":"co-coverage","v":88.4,"j":-0.03},{"p":"D","c":"co-coverage","v":87.0,"j":0.02},{"p":"D","c":"co-coverage","v":86.3,"j":-0.07},{"p":"D","c":"co-coverage","v":84.7,"j":-0.08},{"p":"D","c":"co-coverage","v":84.3,"j":0.08},{"p":"D","c":"co-coverage","v":83.0,"j":-0.05},{"p":"D","c":"co-coverage","v":83.0,"j":-0.02},{"p":"D","c":"co-coverage","v":81.1,"j":0.04},{"p":"D","c":"co-coverage","v":80.7,"j":0.05},{"p":"D","c":"co-coverage","v":80.5,"j":-0.09},{"p":"D","c":"co-coverage","v":79.7,"j":-0.08},{"p":"D","c":"co-coverage","v":79.3,"j":-0.05},{"p":"D","c":"co-coverage","v":77.4,"j":-0.02},{"p":"D","c":"co-coverage","v":76.8,"j":0},{"p":"D","c":"co-coverage","v":76.4,"j":0.09},{"p":"D","c":"co-coverage","v":74.8,"j":-0.01},{"p":"D","c":"co-coverage","v":72.3,"j":-0.08},{"p":"D","c":"co-coverage","v":71.9,"j":-0.10},{"p":"D","c":"co-coverage","v":70.2,"j":-0.11},{"p":"D","c":"co-coverage","v":70.0,"j":-0.08},{"p":"D","c":"co-coverage","v":68.7,"j":-0.05},{"p":"D","c":"co-coverage","v":69.0,"j":0.08},{"p":"D","c":"co-coverage","v":68.1,"j":0.06},{"p":"D","c":"co-coverage","v":66.1,"j":0.09},{"p":"D","c":"co-coverage","v":64.8,"j":-0.05},{"p":"D","c":"co-coverage","v":63.6,"j":-0.02},{"p":"D","c":"co-coverage","v":63.3,"j":-0.05},{"p":"D","c":"co-coverage","v":62.2,"j":-0.09},{"p":"D","c":"co-coverage","v":62.2,"j":-0.05},{"p":"D","c":"co-coverage","v":61.9,"j":0.03},{"p":"D","c":"co-coverage","v":59.9,"j":0.01},{"p":"D","c":"co-coverage","v":58.9,"j":0.05},{"p":"D","c":"co-coverage","v":58.0,"j":0},{"p":"D","c":"co-coverage","v":56.1,"j":0.06},{"p":"D","c":"co-coverage","v":54.9,"j":-0.01},{"p":"D","c":"co-coverage","v":53.4,"j":-0.05},{"p":"D","c":"co-coverage","v":53.9,"j":0.02},{"p":"D","c":"co-coverage","v":49.8,"j":0.02},{"p":"D","c":"co-coverage","v":49.5,"j":0.01},{"p":"D","c":"co-coverage","v":48.9,"j":-0.09},{"p":"D","c":"co-coverage","v":46.2,"j":-0.01},{"p":"D","c":"co-coverage","v":46.2,"j":0.07},{"p":"D","c":"co-coverage","v":44.4,"j":-0.11},{"p":"D","c":"co-coverage","v":44.1,"j":0.04},{"p":"D","c":"co-coverage","v":42.6,"j":-0.02},{"p":"D","c":"co-coverage","v":41.2,"j":0.06},{"p":"D","c":"co-coverage","v":36.3,"j":0.05},{"p":"D","c":"co-coverage","v":33.5,"j":0.02},{"p":"D","c":"co-coverage","v":33.2,"j":0.01},{"p":"D","c":"co-coverage","v":32.5,"j":-0.07},{"p":"D","c":"co-coverage","v":23.4,"j":-0.03}
]
},
"bounds": "flush",
"spacing": 18,
"resolve": {"scale": {"x": "independent", "color": "independent", "xOffset": "independent"}},
"hconcat": [
{
  "width": 298, "height": 524,
  "title": {"text": "(A)", "anchor": "start", "frame": "group", "dx": -14, "fontSize": 21, "offset": -35, "baseline": "alphabetic"},
  "resolve": {"scale": {"x": "independent", "xOffset": "independent"}, "axis": {"x": "independent"}},
  "layer": [
    {"data": {"name": "pts"}, "transform": [{"filter": "datum.p == 'A'"}],
     "mark": {"type": "circle", "size": 32, "opacity": 1, "color": "black"},
     "encoding": {
       "x": {"field": "c", "type": "nominal", "scale": {"domain": ["home", "lower-level", "hospital", "facility delivery"], "paddingInner": 0.1, "paddingOuter": 0.15},
             "axis": {"orient": "bottom", "title": null, "labelAngle": 0, "labelFontSize": 12.5, "labelBaseline": "middle", "labelLineHeight": 14, "tickSize": 4, "bandPosition": 0.5, "grid": true, "gridWidth": 1.2,
                      "labelPadding": {"condition": {"test": "datum.value == 'facility delivery'", "value": 8}, "value": 15},
                      "labelExpr": "datum.value == 'facility delivery' ? ['facility', 'delivery'] : datum.value"}},
       "xOffset": {"field": "j", "type": "quantitative", "scale": {"domain": [-0.45, 0.45], "nice": false, "zero": false}},
       "y": {"field": "v", "type": "quantitative", "scale": {"domain": [-5, 105], "nice": false, "zero": false},
             "axis": {"title": "coverage estimate %", "titleFontSize": 19, "titleColor": "black", "titlePadding": 5, "values": [0,10,20,30,40,50,60,70,80,90,100],
                      "labelExpr": "datum.value % 20 == 0 ? datum.label : ''", "labelFontSize": 16, "labelPadding": 3, "tickSize": 4,
                      "tickOpacity": {"condition": {"test": "datum.value % 20 != 0", "value": 0}, "value": 1},
                      "gridWidth": {"condition": {"test": "datum.value % 20 != 0", "value": 0.6}, "value": 1.2}}}
     }},
    {"data": {"name": "bars"}, "transform": [{"filter": "datum.p == 'A'"}],
     "mark": {"type": "bar", "opacity": 0.7},
     "encoding": {
       "x": {"field": "c", "type": "nominal", "scale": {"domain": ["home", "lower-level", "hospital", "facility delivery"], "paddingInner": 0.1, "paddingOuter": 0.15},
             "axis": {"orient": "top", "title": "Place of delivery", "titleFontSize": 16.5, "titleColor": "black", "titleY": -29.5, "titleBaseline": "alphabetic", "labels": false, "ticks": false, "domain": false, "grid": false}},
       "y": {"field": "v", "type": "quantitative", "scale": {"domain": [-5, 105], "nice": false, "zero": false}},
       "y2": {"datum": 0},
       "color": {"field": "c", "type": "nominal", "scale": {"domain": ["home", "lower-level", "hospital", "facility delivery"], "range": ["#add8e6", "#6a97ea", "#262676", "#ffc2fb"]}, "legend": null}
     }}
  ]
},
{
  "width": 352, "height": 524,
  "title": {"text": "(B)", "anchor": "start", "frame": "group", "dx": 0, "fontSize": 21, "offset": -35, "baseline": "alphabetic"},
  "resolve": {"scale": {"x": "independent", "xOffset": "independent"}, "axis": {"x": "independent"}},
  "layer": [
    {"data": {"name": "pts"}, "transform": [{"filter": "datum.p == 'B'"}],
     "mark": {"type": "circle", "size": 32, "opacity": 1, "color": "black"},
     "encoding": {
       "x": {"field": "c", "type": "nominal", "scale": {"domain": ["skilled attendent", "skilled attendent OR facility delivery", "24hr+ stay", "health check 2d"], "paddingInner": 0.1, "paddingOuter": 0.15},
             "axis": {"orient": "bottom", "title": null, "labelAngle": 0, "labelFontSize": 12.5, "labelBaseline": "middle", "labelLineHeight": 14, "tickSize": 4, "bandPosition": 0.5, "grid": true, "gridWidth": 1.2, "labelLimit": 300,
                      "labelPadding": {"condition": {"test": "datum.value != 'health check 2d'", "value": 8}, "value": 15},
                      "labelExpr": "datum.value == 'skilled attendent' ? ['skilled', 'attendent'] : datum.value == 'skilled attendent OR facility delivery' ? ['skilled attendent', 'OR facility delivery'] : datum.value == '24hr+ stay' ? ['24hr+', 'stay'] : datum.value"}},
       "xOffset": {"field": "j", "type": "quantitative", "scale": {"domain": [-0.45, 0.45], "nice": false, "zero": false}},
       "y": {"field": "v", "type": "quantitative", "scale": {"domain": [-5, 105], "nice": false, "zero": false},
             "axis": {"title": null, "labels": false, "ticks": false, "values": [0,10,20,30,40,50,60,70,80,90,100],
                      "gridWidth": {"condition": {"test": "datum.value % 20 != 0", "value": 0.6}, "value": 1.2}}}
     }},
    {"data": {"name": "bars"}, "transform": [{"filter": "datum.p == 'B'"}],
     "mark": {"type": "bar", "opacity": 0.7},
     "encoding": {
       "x": {"field": "c", "type": "nominal", "scale": {"domain": ["skilled attendent", "skilled attendent OR facility delivery", "24hr+ stay", "health check 2d"], "paddingInner": 0.1, "paddingOuter": 0.15},
             "axis": {"orient": "top", "title": "Contact indicators", "titleFontSize": 16.5, "titleColor": "black", "titleY": -29.5, "titleBaseline": "alphabetic", "labels": false, "ticks": false, "domain": false, "grid": false}},
       "y": {"field": "v", "type": "quantitative", "scale": {"domain": [-5, 105], "nice": false, "zero": false}},
       "y2": {"datum": 0},
       "color": {"field": "c", "type": "nominal", "scale": {"domain": ["skilled attendent", "skilled attendent OR facility delivery", "24hr+ stay", "health check 2d"], "range": ["#9130ea", "#5f298b", "#90ee90", "#136f13"]}, "legend": null}
     }}
  ]
},
{
  "width": 352, "height": 524,
  "title": {"text": "(C)", "anchor": "start", "frame": "group", "dx": -5, "fontSize": 21, "offset": -35, "baseline": "alphabetic"},
  "resolve": {"scale": {"x": "independent", "xOffset": "independent"}, "axis": {"x": "independent"}},
  "layer": [
    {"data": {"name": "pts"}, "transform": [{"filter": "datum.p == 'C'"}],
     "mark": {"type": "circle", "size": 32, "opacity": 1, "color": "black"},
     "encoding": {
       "x": {"field": "c", "type": "nominal", "scale": {"domain": ["0", "1", "2", "3", "4", "5"], "paddingInner": 0.1, "paddingOuter": 0.15},
             "axis": {"orient": "bottom", "title": null, "labelAngle": 0, "labelFontSize": 12.5, "labelBaseline": "middle", "labelPadding": 20, "tickSize": 4, "bandPosition": 0.5, "grid": true, "gridWidth": 1.2}},
       "xOffset": {"field": "j", "type": "quantitative", "scale": {"domain": [-0.45, 0.45], "nice": false, "zero": false}},
       "y": {"field": "v", "type": "quantitative", "scale": {"domain": [-5, 105], "nice": false, "zero": false},
             "axis": {"title": null, "labels": false, "ticks": false, "values": [0,10,20,30,40,50,60,70,80,90,100],
                      "gridWidth": {"condition": {"test": "datum.value % 20 != 0", "value": 0.6}, "value": 1.2}}}
     }},
    {"data": {"name": "bars"}, "transform": [{"filter": "datum.p == 'C'"}],
     "mark": {"type": "bar", "opacity": 0.7},
     "encoding": {
       "x": {"field": "c", "type": "nominal", "scale": {"domain": ["0", "1", "2", "3", "4", "5"], "paddingInner": 0.1, "paddingOuter": 0.15},
             "axis": {"orient": "top", "title": "Delivery care score", "titleFontSize": 16.5, "titleColor": "black", "titleY": -29.5, "titleBaseline": "alphabetic", "labels": false, "ticks": false, "domain": false, "grid": false}},
       "y": {"field": "v", "type": "quantitative", "scale": {"domain": [-5, 105], "nice": false, "zero": false}},
       "y2": {"datum": 0},
       "color": {"field": "c", "type": "nominal", "scale": {"domain": ["0", "1", "2", "3", "4", "5"], "range": ["#b20e31", "#e11f1f", "#f85337", "#f99547", "#fcba58", "#fcd87d"]}, "legend": null}
     }}
  ]
},
{
  "width": 131, "height": 524,
  "title": {"text": "(D)", "anchor": "start", "frame": "group", "dx": -12, "fontSize": 21, "offset": -35, "baseline": "alphabetic"},
  "resolve": {"scale": {"x": "independent", "xOffset": "independent"}, "axis": {"x": "independent"}},
  "layer": [
    {"data": {"name": "pts"}, "transform": [{"filter": "datum.p == 'D'"}],
     "mark": {"type": "circle", "size": 32, "opacity": 1, "color": "black"},
     "encoding": {
       "x": {"field": "c", "type": "nominal", "scale": {"domain": ["co-coverage"], "paddingInner": 0.1, "paddingOuter": 0.15},
             "axis": {"orient": "bottom", "title": null, "labelAngle": 0, "labelFontSize": 12.5, "labelBaseline": "middle", "labelPadding": 20, "tickSize": 4, "bandPosition": 0.5, "grid": true, "gridWidth": 1.2}},
       "xOffset": {"field": "j", "type": "quantitative", "scale": {"domain": [-0.45, 0.45], "nice": false, "zero": false}},
       "y": {"field": "v", "type": "quantitative", "scale": {"domain": [-5, 105], "nice": false, "zero": false},
             "axis": {"title": null, "labels": false, "ticks": false, "values": [0,10,20,30,40,50,60,70,80,90,100],
                      "gridWidth": {"condition": {"test": "datum.value % 20 != 0", "value": 0.6}, "value": 1.2}}}
     }},
    {"data": {"name": "bars"}, "transform": [{"filter": "datum.p == 'D'"}],
     "mark": {"type": "bar", "opacity": 0.7},
     "encoding": {
       "x": {"field": "c", "type": "nominal", "scale": {"domain": ["co-coverage"], "paddingInner": 0.1, "paddingOuter": 0.15},
             "axis": {"orient": "top", "title": ["Delivery", "care"], "titleFontSize": 16.5, "titleColor": "black", "titleY": -29.5, "titleBaseline": "alphabetic", "titleLineHeight": 16, "labels": false, "ticks": false, "domain": false, "grid": false}},
       "y": {"field": "v", "type": "quantitative", "scale": {"domain": [-5, 105], "nice": false, "zero": false}},
       "y2": {"datum": 0},
       "color": {"field": "c", "type": "nominal", "scale": {"domain": ["co-coverage"], "range": ["#c0c0c0"]}, "legend": null}
     }}
  ]
}
]
}
